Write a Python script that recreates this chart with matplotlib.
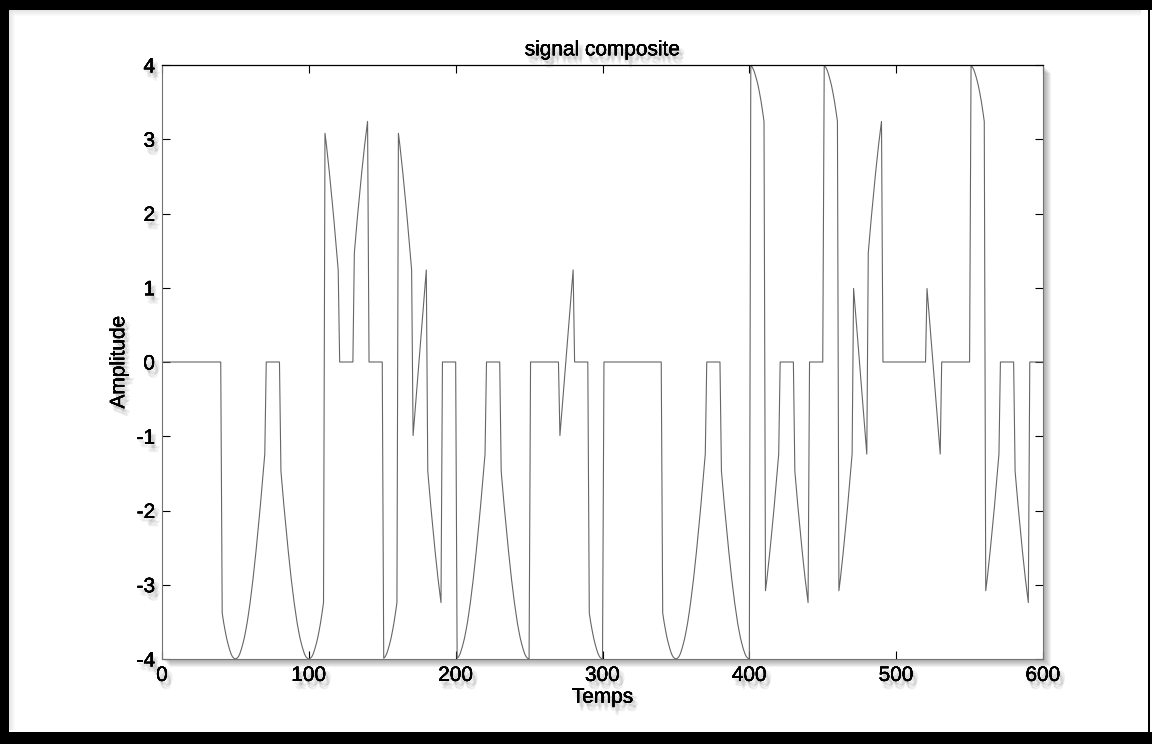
import numpy as np
import matplotlib
matplotlib.use("Agg")
import matplotlib.pyplot as plt
from matplotlib import patheffects, font_manager
from matplotlib.patches import Rectangle

# amplitude of each 10-sample block (0 = flat, +1 / -1 = carrier sign)
symbols = [0, 0, 0, 0, 1, 1, 1, 0, -1, -1,
           -1, 1, 0, -1, 0, 1, -1, 1, -1, 0,
           -1, -1, 0, 1, 1, 0, 0, 1, 0, -1,
           0, 0, 0, 0, 1, 1, 1, 0, -1, -1,
           1, -1, 0, 1, 0, -1, 1, -1, 1, 0,
           0, 0, 1, 0, 0, -1, 1, 0, -1, 0]

# one period (100 samples) of the carrier as seen in the plot
carrier = [3.99, 3.97, 3.93, 3.87, 3.80, 3.72, 3.62, 3.51, 3.38, 3.24,
           3.08, 2.92, 2.74, 2.55, 2.35, 2.14, 1.93, 1.70, 1.47, 1.24,
           0.99, 0.75, 0.50, 0.25, 0.00, -0.25, -0.50, -0.75, -0.99, -1.24,
           -1.47, -1.70, -1.93, -2.14, -2.35, -2.55, -2.74, -2.92, -3.08, -3.24,
           -3.38, -3.51, -3.62, -3.72, -3.80, -3.87, -3.93, -3.97, -3.99, -4.00,
           -3.99, -3.97, -3.93, -3.87, -3.80, -3.72, -3.62, -3.51, -3.38, -3.24,
           -3.08, -2.92, -2.74, -2.55, -2.35, -2.14, -1.93, -1.70, -1.47, -1.24,
           -0.99, -0.75, -0.50, -0.25, 0.00, 0.25, 0.50, 0.75, 0.99, 1.24,
           1.47, 1.70, 1.93, 2.14, 2.35, 2.55, 2.74, 2.92, 3.08, 3.24,
           3.38, 3.51, 3.62, 3.72, 3.80, 3.87, 3.93, 3.97, 3.99, 4.00]

xticks = [0, 100, 200, 300, 400, 500, 600]
yticks = [-4, -3, -2, -1, 0, 1, 2, 3, 4]

block = 10
signal = np.repeat(symbols, block) * np.tile(carrier, len(symbols) * block // len(carrier))
t = np.arange(1, len(signal) + 1)

names = {f.name for f in font_manager.fontManager.ttflist}
font = "Liberation Sans Narrow" if "Liberation Sans Narrow" in names else "Liberation Sans"
plt.rcParams["font.family"] = [font, "DejaVu Sans"]
plt.rcParams["axes.unicode_minus"] = False

W, H = 1152, 744
fig = plt.figure(figsize=(W / 100, H / 100), dpi=100)
fig.patch.set_facecolor("white")

# frame around the picture
def px_rect(x0, y0, w, h, **kw):
    fig.patches.append(Rectangle((x0 / W, 1 - (y0 + h) / H), w / W, h / H,
                                 transform=fig.transFigure, figure=fig, **kw))

for i in range(6):
    a = 0.10 * (6 - i) / 6
    px_rect(9 + i, 10 + i, W - 20 - i, 1, color="black", alpha=a, lw=0, zorder=-2)
    px_rect(9 + i, 10 + i, 1, H - 24 - i, color="black", alpha=a, lw=0, zorder=-2)
px_rect(0, 0, W, 10, color="black", lw=0, zorder=5)
px_rect(0, 0, 9, H, color="black", lw=0, zorder=5)
px_rect(0, H - 12, W, 12, color="black", lw=0, zorder=5)
px_rect(W - 4, 10, 2, H - 20, color="black", lw=0, zorder=5)

ax_l, ax_t, ax_r, ax_b = 162, 65, 1043, 659
ax = fig.add_axes([ax_l / W, 1 - ax_b / H, (ax_r - ax_l) / W, (ax_b - ax_t) / H])

# soft drop shadow of the axes box
for i in range(1, 9):
    px_rect(ax_l + i, ax_t + i, ax_r - ax_l, ax_b - ax_t, color="0.35",
            alpha=0.08, lw=0, zorder=-1)

ax.plot(t, signal, color="#666666", lw=0.8)

ax.set_xlim(0, 600)
ax.set_ylim(-4, 4)
ax.set_xticks(xticks)
ax.set_yticks(yticks)
ax.tick_params(direction="in", top=True, right=True, length=6, width=0.8,
               labelsize=15, pad=5)
for side in ["left", "bottom", "right"]:
    ax.spines[side].set_color("0.45")
    ax.spines[side].set_linewidth(0.8)
ax.spines["top"].set_color("black")
ax.spines["top"].set_linewidth(0.9)

# blurred grey text shadow, built from a few faint offset copies
shadow = [patheffects.withSimplePatchShadow(offset=(dx, -dy), shadow_rgbFace="0.3", alpha=0.09)
          for dx, dy in [(1, 2), (2, 3), (3, 4), (2, 5), (4, 3), (3, 6)]]
ax.set_title("signal composite", fontsize=15, pad=7, path_effects=shadow)
ax.set_xlabel("Temps", fontsize=15, labelpad=2, path_effects=shadow)
ax.set_ylabel("Amplitude", fontsize=15, labelpad=6, path_effects=shadow)
for lab in ax.get_xticklabels() + ax.get_yticklabels():
    lab.set_path_effects(shadow)

fig.savefig("out.png", dpi=100)
